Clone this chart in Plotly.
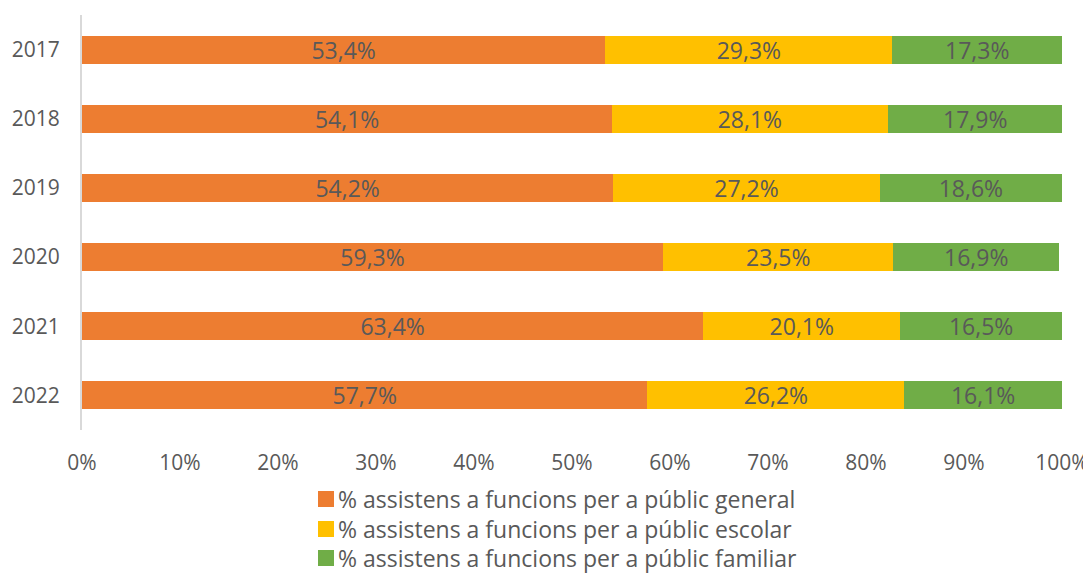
import plotly.graph_objects as go

# years shown top to bottom
years = ["2017", "2018", "2019", "2020", "2021", "2022"]
general = [53.4, 54.1, 54.2, 59.3, 63.4, 57.7]
escolar = [29.3, 28.1, 27.2, 23.5, 20.1, 26.2]
familiar = [17.3, 17.9, 18.6, 16.9, 16.5, 16.1]

series_names = [
    "% assistens a funcions per a públic general",
    "% assistens a funcions per a públic escolar",
    "% assistens a funcions per a públic familiar",
]
colors = ["#ED7D31", "#FFC000", "#70AD47"]

# page body has an 8px margin, so the figure is drawn 8px smaller
OFF = 8
W, H = 1091 - OFF, 574 - OFF
ML, MR, MT, MB = 82 - OFF, 29, 15 - OFF, 144
PW, PH = W - ML - MR, H - MT - MB


def px_to_paper(px, py):
    # screen pixel -> paper coords (only for the hand-made legend)
    px, py = px - OFF, py - OFF
    return (px - ML) / PW, (H - MB - py) / PH


fig = go.Figure()
for name, vals, col in zip(series_names, [general, escolar, familiar], colors):
    fig.add_trace(go.Bar(
        y=years,
        x=vals,
        name=name,
        orientation="h",
        marker=dict(color=col, line=dict(width=0)),
        width=0.405,
        text=[f"{v:.1f}%".replace(".", ",") for v in vals],
        textposition="inside",
        insidetextanchor="middle",
        textfont=dict(size=23, color="#595959", family="Open Sans"),
        textangle=0,
        constraintext="none",
        showlegend=False,
    ))

# legend drawn by hand so it sits at the very bottom like the original
legend_rows = [499, 529, 558]
for name, col, ry in zip(series_names, colors, legend_rows):
    x0, y0 = px_to_paper(318, ry - 8)
    x1, y1 = px_to_paper(334, ry + 8)
    fig.add_shape(type="rect", xref="paper", yref="paper",
                  x0=x0, x1=x1, y0=y1, y1=y0,
                  fillcolor=col, line=dict(width=0))
    tx, ty = px_to_paper(336, ry)
    fig.add_annotation(xref="paper", yref="paper", x=tx, y=ty,
                       text=name, showarrow=False,
                       xanchor="left", yanchor="middle",
                       font=dict(size=23, color="#595959", family="Open Sans"))

fig.update_layout(
    barmode="stack",
    width=W,
    height=H,
    margin=dict(l=ML, r=MR, t=MT, b=MB),
    paper_bgcolor="white",
    plot_bgcolor="white",
    font=dict(family="Open Sans", color="#595959"),
    xaxis=dict(
        range=[0, 100],
        tickvals=[0, 10, 20, 30, 40, 50, 60, 70, 80, 90, 100],
        ticktext=[f"{v}%" for v in range(0, 101, 10)],
        showgrid=False,
        zeroline=False,
        showline=False,
        tickfont=dict(size=21, color="#595959"),
        ticks="",
        ticklabelstandoff=18,
        automargin=False,
    ),
    yaxis=dict(
        categoryorder="array",
        categoryarray=years[::-1],
        showgrid=False,
        zeroline=False,
        showline=True,
        linecolor="#D9D9D9",
        linewidth=2,
        tickfont=dict(size=21, color="#595959"),
        ticks="",
        ticklabelstandoff=16,
        automargin=False,
    ),
    showlegend=False,
)

fig.write_html("out.html")
